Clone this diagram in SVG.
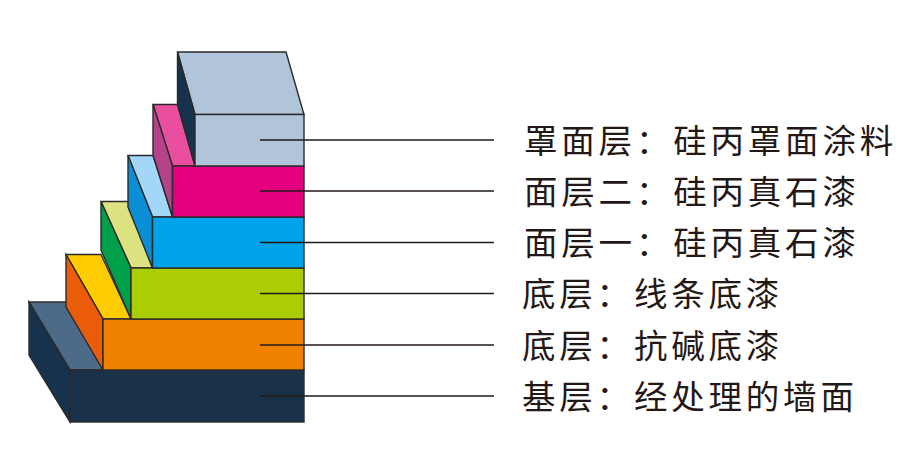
<svg xmlns="http://www.w3.org/2000/svg" width="922" height="474" viewBox="0 0 922 474">
<style>
.f{stroke:#2b2a2a;stroke-width:1.4;stroke-linejoin:miter}
.c line{stroke:#231815;stroke-width:1.3}
.t{font-family:"Noto Sans CJK SC",sans-serif;font-size:33.500px;letter-spacing:3.800px;fill:#231815;font-weight:400}
</style>
<rect width="922" height="474" fill="#fff"/>
<g id="layer-wall">
<path class="f" fill="#4d6a88" d="M29 302H66L103 370H70Z"/>
<path class="f" fill="#17324c" d="M29 302L70 370V422L29 355Z"/>
<rect class="f" fill="#1a3249" x="70" y="370" width="234" height="52"/>
<text class="t" x="522" y="409">基层：经处理的墙面</text>
</g>
<g id="layer-alkali">
<path class="f" fill="#ffcc00" d="M66 254.500H101L131 319H103Z"/>
<path class="f" fill="#eb5c0a" d="M66 254.500L103 319V370L66 307Z"/>
<rect class="f" fill="#f18200" x="103" y="319" width="201" height="51"/>
<text class="t" x="522" y="358">底层：抗碱底漆</text>
</g>
<g id="layer-line">
<path class="f" fill="#dbe27f" d="M101 201.500H128L152.500 268H131Z"/>
<path class="f" fill="#00a04a" d="M101 201.500L131 268V319L101 250Z"/>
<rect class="f" fill="#abcd03" x="131" y="268" width="173" height="51"/>
<text class="t" x="522" y="306">底层：线条底漆</text>
</g>
<g id="layer-stone1">
<path class="f" fill="#a2d7f7" d="M128 155.500H153L172.500 217H152.500Z"/>
<path class="f" fill="#0a8fd6" d="M128 155.500L152.500 217V268L128 207Z"/>
<rect class="f" fill="#00a2e9" x="152.500" y="217" width="151.500" height="51"/>
<text class="t" x="524" y="255">面层一：硅丙真石漆</text>
</g>
<g id="layer-stone2">
<path class="f" fill="#ea4f9f" d="M153 104.500H177.500L195 166H172.500Z"/>
<path class="f" fill="#b4438a" d="M153 104.500L172.500 166V217L153 155Z"/>
<rect class="f" fill="#e4007f" x="172.500" y="166" width="131.500" height="51"/>
<text class="t" x="524" y="204">面层二：硅丙真石漆</text>
</g>
<g id="layer-cover">
<path class="f" fill="#b0c4da" d="M177.500 52H286L304 114.500H195Z"/>
<path class="f" fill="#17324c" d="M177.500 52V104.500L195 166V114.500Z"/>
<rect class="f" fill="#b0c4da" x="195" y="114.500" width="109" height="51.500"/>
<text class="t" x="524" y="153">罩面层：硅丙罩面涂料</text>
</g>
<g id="connectors" class="c">
<line x1="260" y1="140" x2="494" y2="140"/>
<line x1="260" y1="191" x2="494" y2="191"/>
<line x1="260" y1="242.500" x2="494" y2="242.500"/>
<line x1="260" y1="293.500" x2="494" y2="293.500"/>
<line x1="260" y1="345" x2="494" y2="345"/>
<line x1="260" y1="396" x2="494" y2="396"/>
</g>
</svg>
